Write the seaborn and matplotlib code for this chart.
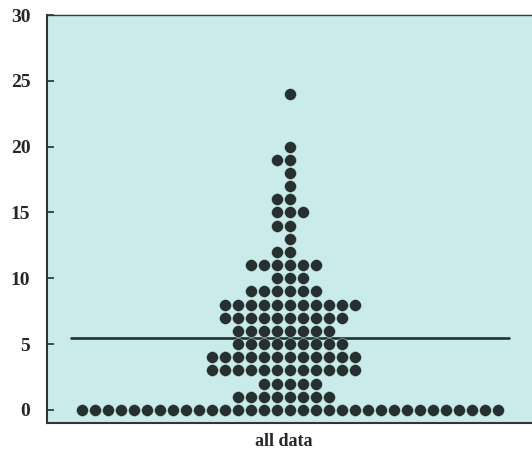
import numpy as np
import pandas as pd
import matplotlib
matplotlib.use("Agg")
import matplotlib.pyplot as plt
import seaborn as sns

# Values (value -> number of dots)
values = [0, 1, 2, 3, 4, 5, 6, 7, 8, 9, 10, 11, 12, 13, 14, 15, 16, 17, 18, 19, 20, 24]
counts = [33, 8, 5, 12, 12, 9, 8, 10, 11, 6, 3, 6, 2, 1, 2, 3, 2, 1, 1, 2, 1, 1]
group_label = "all data"
yticks = [0, 5, 10, 15, 20, 25, 30]

data = np.repeat(values, counts)
df = pd.DataFrame({"group": [group_label] * len(data), "value": data})
mean_val = df["value"].mean()

sns.set_style("white")
plt.rcParams["font.family"] = ["Liberation Serif", "DejaVu Serif"]
plt.rcParams["font.weight"] = "bold"

BG = "#c9ecea"
DOT = "#263030"

fig = plt.figure(figsize=(5.32, 4.63), dpi=100)
fig.patch.set_facecolor("white")
ax = fig.add_axes([0.0883, 0.0864, 0.914, 0.8812])
ax.set_facecolor(BG)

sns.swarmplot(data=df, x="group", y="value", color=DOT, size=8.6,
              linewidth=0.32, edgecolor=BG, ax=ax)
ax.plot([-0.405, 0.405], [mean_val, mean_val], color=DOT, lw=1.9, zorder=1)

ax.set_xlim(-0.45, 0.45)
ax.set_ylim(-1, 30)
ax.set_yticks(yticks)
ax.set_yticklabels([str(t) for t in yticks], fontsize=14, fontweight="bold")
ax.set_xticks([])
ax.set_xlabel(group_label, fontsize=13, fontweight="bold")
ax.xaxis.set_label_coords((284 - 47) / 486.0, -0.024)
ax.set_ylabel("")

ax.tick_params(axis="y", direction="in", length=5, width=1.2, color=DOT,
               pad=12, left=True)
for side in ["left", "bottom"]:
    ax.spines[side].set_color("#2e3535")
    ax.spines[side].set_linewidth(1.5)
ax.spines["right"].set_visible(False)
ax.spines["top"].set_linestyle((0, (1, 1)))
ax.spines["top"].set_color("#333a3a")
ax.spines["top"].set_linewidth(1.0)

fig.savefig("out.png", dpi=100)
